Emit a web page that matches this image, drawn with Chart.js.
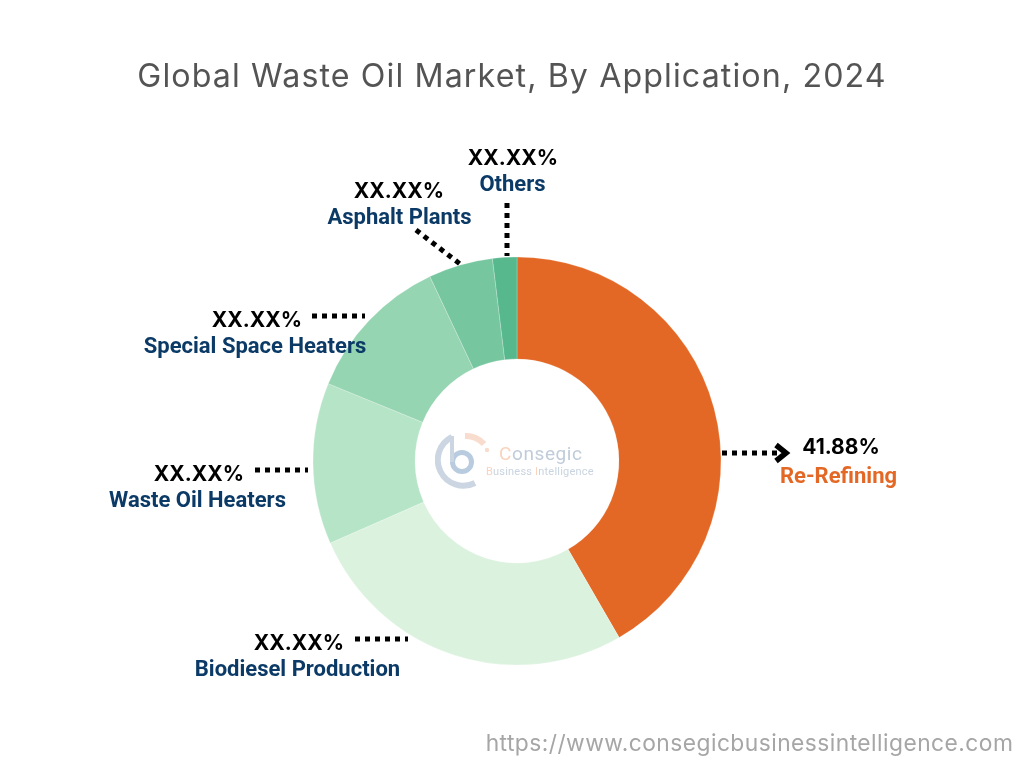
<!DOCTYPE html>
<html>
<head>
<meta charset="utf-8">
<title>Global Waste Oil Market, By Application, 2024</title>
<script src="https://cdn.jsdelivr.net/npm/chart.js@4"></script>
<style>
  html, body { margin: 0; padding: 0; background: #fff; }
  #wrap { position: relative; width: 1024px; height: 768px; overflow: hidden; }
  canvas { position: absolute; left: 0; top: 0; }
  .t { position: absolute; white-space: nowrap; transform: translateX(-50%); }
  .val { font: 700 21px Inter, sans-serif; color: #000; }
  .name { font: 700 22px Roboto, sans-serif; color: #0b3a66; }
  #title { left: 512px; top: 56px; font: 400 32.2px Inter, sans-serif; color: #545454; letter-spacing: 1.1px; }
  #site { left: 749.5px; top: 729px; font: 400 22.8px Inter, sans-serif; color: #a6a6a6; letter-spacing: 0.45px; }
  #logo { position: absolute; left: 435px; top: 430px; }
</style>
</head>
<body>
<div id="wrap">
  <canvas id="myChart" width="1024" height="768"></canvas>
  <svg id="logo" width="170" height="62" viewBox="0 0 170 62">
    <g fill="none" stroke-width="6">
      <path d="M17 7 A25 25 0 0 0 40 53" stroke="#ccd6e3"/>
      <path d="M30 6 A25 25 0 0 1 49 14" stroke="#f8dccd"/>
      <circle cx="27" cy="32" r="9.5" stroke="#b9cbdf" stroke-width="5"/>
      <path d="M17 6 L17 32" stroke="#ccd6e3" stroke-width="4"/>
    </g>
    <circle cx="52" cy="20" r="2.2" fill="#f8dccd"/>
    <text x="64" y="30" font-family="Roboto, sans-serif" font-size="19" fill="#c0ccda" letter-spacing="0.6"><tspan fill="#f8d3bd">C</tspan>onsegic</text>
    <text x="51" y="45" font-family="Roboto, sans-serif" font-size="11" fill="#c9d4e0" letter-spacing="0.2"><tspan fill="#f8d3bd">B</tspan>usiness <tspan fill="#f8d3bd">I</tspan>ntelligence</text>
  </svg>
  <div id="title" class="t">Global Waste Oil Market, By Application, 2024</div>
  <div id="site" class="t">https://www.consegicbusinessintelligence.com</div>
</div>
<script>
const categories = ["Re-Refining", "Biodiesel Production", "Waste Oil Heaters", "Special Space Heaters", "Asphalt Plants", "Others"];
const shares = [41.88, 26.9, 12.85, 11.85, 5.13, 1.93];
const valueLabels = ["41.88%", "XX.XX%", "XX.XX%", "XX.XX%", "XX.XX%", "XX.XX%"];
const colors = ["#e46825", "#dbf2de", "#b5e4c6", "#96d5b2", "#76c6a0", "#57b88d"];

// label placement: value centre x, value top, name centre x, name top
const labelPos = [
  [841, 434, 838.5, 463],
  [299, 630, 297.5, 656],
  [199, 461, 197.5, 487],
  [257, 307, 255, 333],
  [399, 178, 399.5, 204],
  [513, 145, 512.5, 171],
];
// dotted leaders, x1 y1 x2 y2
const leaders = [
  [722, 453, 778, 453],
  [355, 639, 408, 639],
  [255, 470, 308, 470],
  [312, 316, 365, 316],
  [416, 230, 460, 264],
  [507, 203, 507, 256],
];

const wrap = document.getElementById("wrap");
categories.forEach((name, i) => {
  const v = document.createElement("div");
  v.className = "t val";
  v.style.left = labelPos[i][0] + "px";
  v.style.top = labelPos[i][1] + "px";
  v.textContent = valueLabels[i];
  wrap.appendChild(v);

  const n = document.createElement("div");
  n.className = "t name";
  n.style.left = labelPos[i][2] + "px";
  n.style.top = labelPos[i][3] + "px";
  n.textContent = name;
  if (i === 0) n.style.color = "#e46825";
  wrap.appendChild(n);
});

const leaderPlugin = {
  id: "leaders",
  afterDraw(chart) {
    const ctx = chart.ctx;
    ctx.save();
    ctx.strokeStyle = "#000";
    ctx.lineWidth = 5;
    ctx.setLineDash([5, 5]);
    leaders.forEach((l) => {
      ctx.beginPath();
      ctx.moveTo(l[0], l[1]);
      ctx.lineTo(l[2], l[3]);
      ctx.stroke();
    });
    // arrow head on the Re-Refining leader
    ctx.setLineDash([]);
    ctx.lineWidth = 5.5;
    ctx.beginPath();
    ctx.moveTo(776, 445);
    ctx.lineTo(786, 453);
    ctx.lineTo(776, 461);
    ctx.stroke();
    ctx.restore();
  },
};

new Chart(document.getElementById("myChart"), {
  type: "doughnut",
  data: {
    labels: categories,
    datasets: [
      {
        data: shares,
        backgroundColor: colors,
        borderColor: "rgba(255,255,255,0.45)",
        borderWidth: 0.5,
      },
    ],
  },
  options: {
    responsive: false,
    animation: false,
    cutout: "50%",
    layout: { padding: { left: 312.75, right: 302.75, top: 256.75, bottom: 102.75 } },
    plugins: {
      legend: { display: false },
      tooltip: { enabled: false },
    },
  },
  plugins: [leaderPlugin],
});
</script>
</body>
</html>
